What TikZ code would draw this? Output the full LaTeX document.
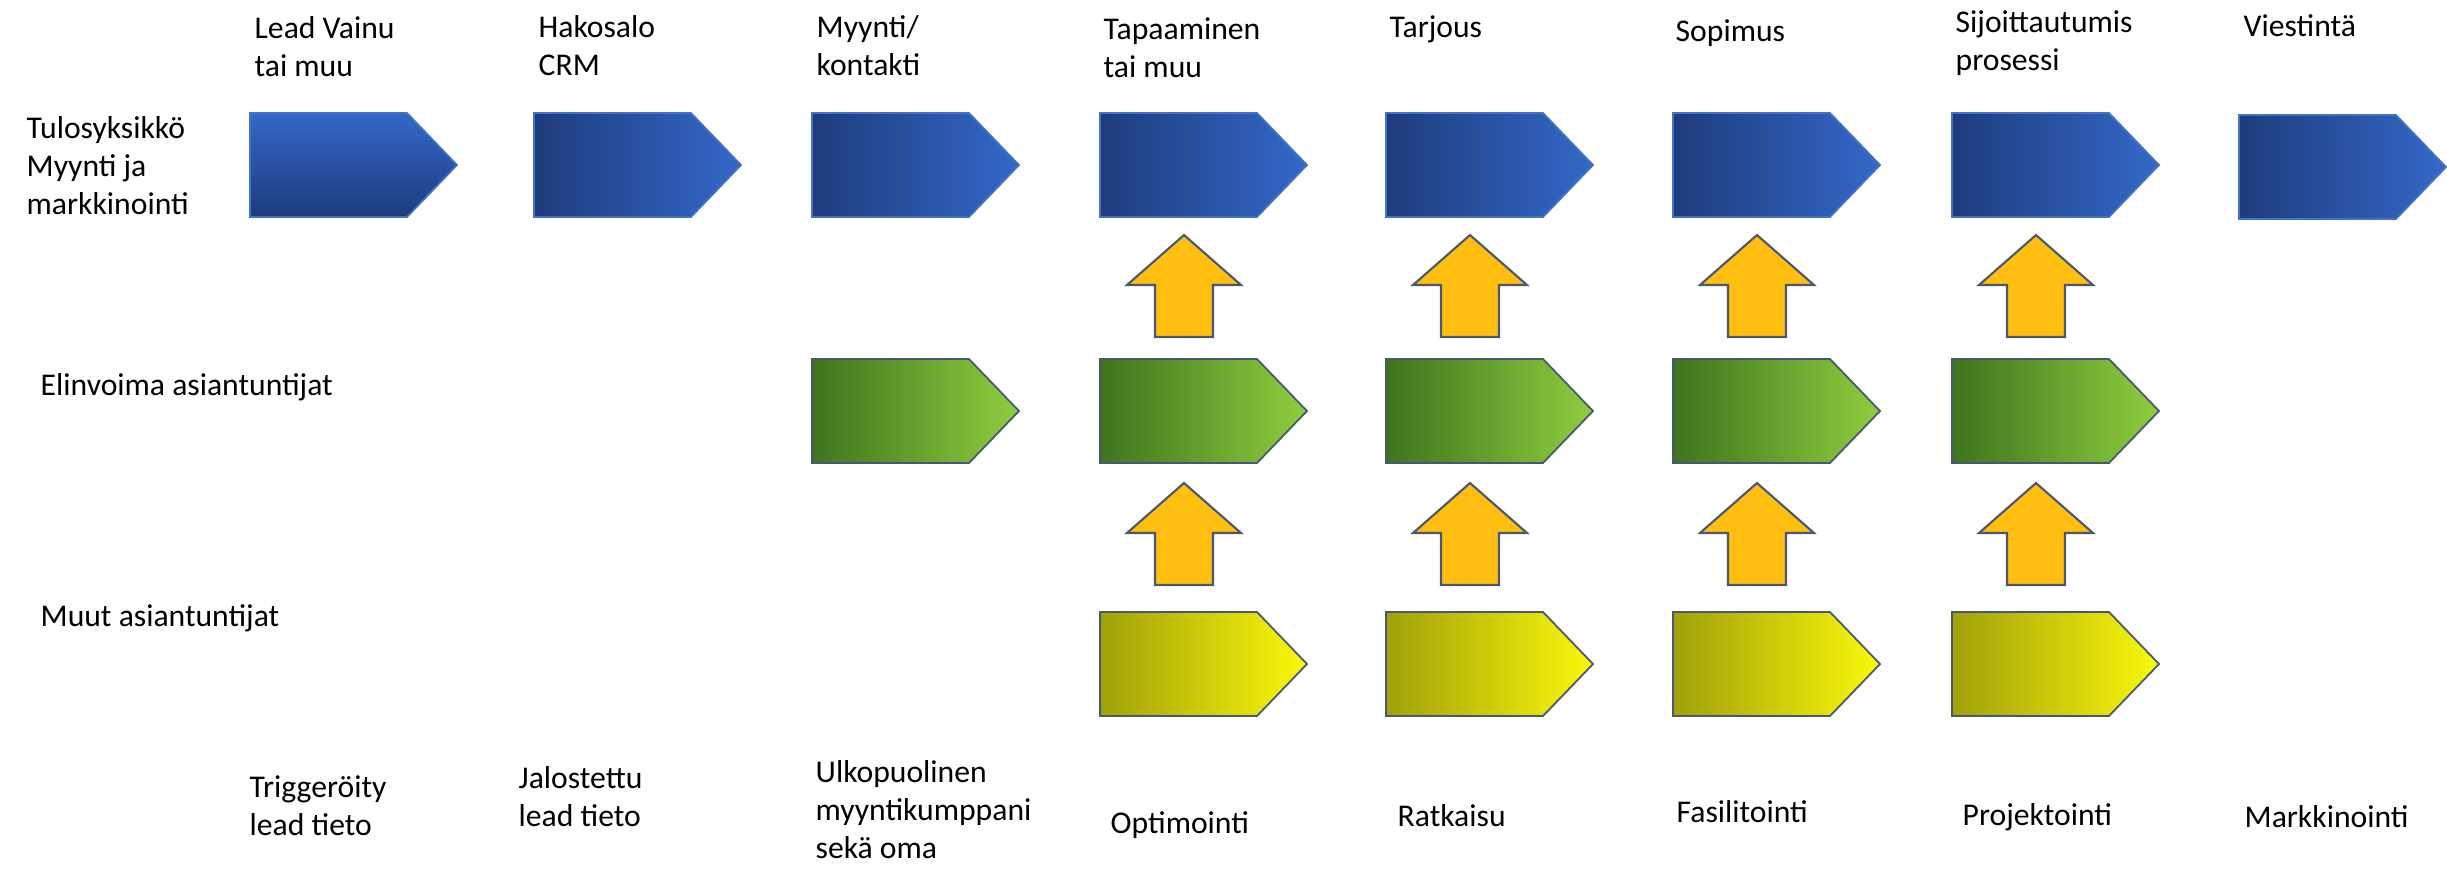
\documentclass[tikz,border=0pt]{standalone}
\usepackage{fontspec}
\setmainfont{Carlito}
\definecolor{sinitumma}{RGB}{30,60,124}
\definecolor{sinivaalea}{RGB}{52,104,200}
\definecolor{sinireuna}{RGB}{68,114,196}
\definecolor{vihrtumma}{RGB}{62,116,30}
\definecolor{vihrvaalea}{RGB}{142,206,62}
\definecolor{keltumma}{RGB}{160,160,10}
\definecolor{kelvaalea}{RGB}{250,248,10}
\definecolor{oranssi}{RGB}{255,190,16}
\definecolor{reuna}{RGB}{72,88,112}
\begin{document}
\begin{tikzpicture}[x=0.01cm,y=-0.01cm,
    sininen/.style={draw=sinireuna,line width=0.5pt,left color=sinitumma,right color=sinivaalea},
    vihrea/.style={draw=reuna,line width=0.5pt,left color=vihrtumma,right color=vihrvaalea},
    keltainen/.style={draw=reuna,line width=0.5pt,left color=keltumma,right color=kelvaalea},
    ylos/.style={draw=reuna,line width=0.6pt,fill=oranssi},
    teksti/.style={anchor=base west,inner sep=0pt,align=left,font=\fontsize{9}{10.8}\selectfont}]
                \useasboundingbox (0,0) rectangle (2447,881);
                \draw[draw=sinireuna,line width=0.5pt,top color=sinivaalea,bottom color=sinitumma] (250,113) -- ++(157,0) -- ++(50,52) -- ++(-50,52) -- ++(-157,0) -- cycle;
                \draw[sininen] (534,113) -- ++(157,0) -- ++(50,52) -- ++(-50,52) -- ++(-157,0) -- cycle;
                \draw[sininen] (812,113) -- ++(157,0) -- ++(50,52) -- ++(-50,52) -- ++(-157,0) -- cycle;
                \draw[sininen] (1100,113) -- ++(157,0) -- ++(50,52) -- ++(-50,52) -- ++(-157,0) -- cycle;
                \draw[sininen] (1386,113) -- ++(157,0) -- ++(50,52) -- ++(-50,52) -- ++(-157,0) -- cycle;
                \draw[sininen] (1673,113) -- ++(157,0) -- ++(50,52) -- ++(-50,52) -- ++(-157,0) -- cycle;
                \draw[sininen] (1952,113) -- ++(157,0) -- ++(50,52) -- ++(-50,52) -- ++(-157,0) -- cycle;
                \draw[sininen] (2239,115) -- ++(157,0) -- ++(50,52) -- ++(-50,52) -- ++(-157,0) -- cycle;
                \draw[vihrea] (812,359) -- ++(157,0) -- ++(50,52) -- ++(-50,52) -- ++(-157,0) -- cycle;
                \draw[vihrea] (1100,359) -- ++(157,0) -- ++(50,52) -- ++(-50,52) -- ++(-157,0) -- cycle;
                \draw[vihrea] (1386,359) -- ++(157,0) -- ++(50,52) -- ++(-50,52) -- ++(-157,0) -- cycle;
                \draw[vihrea] (1673,359) -- ++(157,0) -- ++(50,52) -- ++(-50,52) -- ++(-157,0) -- cycle;
                \draw[vihrea] (1952,359) -- ++(157,0) -- ++(50,52) -- ++(-50,52) -- ++(-157,0) -- cycle;
                \draw[keltainen] (1100,612) -- ++(157,0) -- ++(50,52) -- ++(-50,52) -- ++(-157,0) -- cycle;
                \draw[keltainen] (1386,612) -- ++(157,0) -- ++(50,52) -- ++(-50,52) -- ++(-157,0) -- cycle;
                \draw[keltainen] (1673,612) -- ++(157,0) -- ++(50,52) -- ++(-50,52) -- ++(-157,0) -- cycle;
                \draw[keltainen] (1952,612) -- ++(157,0) -- ++(50,52) -- ++(-50,52) -- ++(-157,0) -- cycle;
                \draw[ylos] (1184,235) -- ++(57,50) -- ++(-28,0) -- ++(0,52) -- ++(-58,0) -- ++(0,-52) -- ++(-28,0) -- cycle;
                \draw[ylos] (1470,235) -- ++(57,50) -- ++(-28,0) -- ++(0,52) -- ++(-58,0) -- ++(0,-52) -- ++(-28,0) -- cycle;
                \draw[ylos] (1757,235) -- ++(57,50) -- ++(-28,0) -- ++(0,52) -- ++(-58,0) -- ++(0,-52) -- ++(-28,0) -- cycle;
                \draw[ylos] (2036,235) -- ++(57,50) -- ++(-28,0) -- ++(0,52) -- ++(-58,0) -- ++(0,-52) -- ++(-28,0) -- cycle;
                \draw[ylos] (1184,483) -- ++(57,50) -- ++(-28,0) -- ++(0,52) -- ++(-58,0) -- ++(0,-52) -- ++(-28,0) -- cycle;
                \draw[ylos] (1470,483) -- ++(57,50) -- ++(-28,0) -- ++(0,52) -- ++(-58,0) -- ++(0,-52) -- ++(-28,0) -- cycle;
                \draw[ylos] (1757,483) -- ++(57,50) -- ++(-28,0) -- ++(0,52) -- ++(-58,0) -- ++(0,-52) -- ++(-28,0) -- cycle;
                \draw[ylos] (2036,483) -- ++(57,50) -- ++(-28,0) -- ++(0,52) -- ++(-58,0) -- ++(0,-52) -- ++(-28,0) -- cycle;
                \draw (254,76) node[teksti] (vaihe1) {Lead Vainu\\tai muu};
                \draw (538,75) node[teksti] (vaihe2) {Hakosalo\\CRM};
                \draw (816,75) node[teksti] (vaihe3) {Myynti/\\kontakti};
                \draw (1103,77) node[teksti] (vaihe4) {Tapaaminen\\tai muu};
                \draw (1389,37) node[teksti] (vaihe5) {Tarjous};
                \draw (1675,41) node[teksti] (vaihe6) {Sopimus};
                \draw (1955,70) node[teksti] (vaihe7) {Sijoittautumis\\prosessi};
                \draw (2243,36) node[teksti] (vaihe8) {Viestintä};
                \draw (26,214) node[teksti] (rivi1) {Tulosyksikkö\\Myynti ja\\markkinointi};
                \draw (40,395) node[teksti] (rivi2) {Elinvoima asiantuntijat};
                \draw (40,626) node[teksti] (rivi3) {Muut asiantuntijat};
                \draw (249,835) node[teksti] (tulos1) {Triggeröity\\lead tieto};
                \draw (518,826) node[teksti] (tulos2) {Jalostettu\\lead tieto};
                \draw (815,858) node[teksti] (tulos3) {Ulkopuolinen\\myyntikumppani\\sekä oma};
                \draw (1110,833) node[teksti] (tulos4) {Optimointi};
                \draw (1397,826) node[teksti] (tulos5) {Ratkaisu};
                \draw (1676,822) node[teksti] (tulos6) {Fasilitointi};
                \draw (1962,825) node[teksti] (tulos7) {Projektointi};
                \draw (2244,827) node[teksti] (tulos8) {Markkinointi};
\end{tikzpicture}
\end{document}
